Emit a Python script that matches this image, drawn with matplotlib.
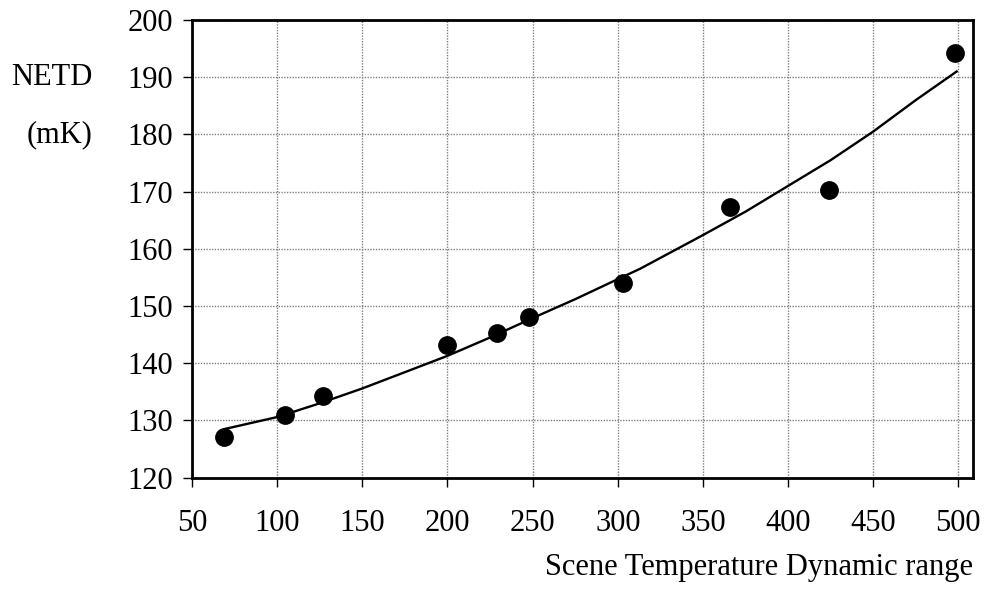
import numpy as np
import matplotlib
matplotlib.use("Agg")
import matplotlib.pyplot as plt

# measured points
range_pts = [69, 104.5, 126.8, 200, 229, 248, 303, 366, 424.3, 498.1]
netd_pts = [127.2, 131.0, 134.2, 143.2, 145.3, 148.1, 154.1, 167.3, 170.2, 194.3]

# fitted curve
range_fit = [69, 100, 125, 150, 172, 200, 225, 250, 275, 300, 313, 350, 375, 400, 425, 450, 475, 499]
netd_fit = [128.5, 130.6, 133.0, 135.6, 138.1, 141.3, 144.5, 147.9, 151.2, 154.7, 156.5, 162.4,
            166.5, 171.0, 175.5, 180.5, 186.0, 191.0]

xticks = [50, 100, 150, 200, 250, 300, 350, 400, 450, 500]
yticks = [120, 130, 140, 150, 160, 170, 180, 190, 200]

plt.rcParams['font.family'] = ['Liberation Serif', 'DejaVu Serif']
fs = 22

fig = plt.figure(figsize=(9.86, 5.94), dpi=100)
ax = fig.add_axes([192/986, 1 - 477.7/594, (973 - 192)/986, (477.7 - 20)/594])

ax.plot(range_fit, netd_fit, color='black', lw=1.7, zorder=3)
ax.plot(range_pts, netd_pts, 'o', color='black', ms=12.5, zorder=4)

ax.set_xlim(50, 508.6)
ax.set_ylim(120, 200)
ax.set_xticks(xticks)
ax.set_yticks(yticks)
ax.grid(True, color='#808080', ls=(0, (1, 1)), lw=1.0)
ax.set_axisbelow(True)

for s in ax.spines.values():
    s.set_linewidth(2)
ax.tick_params(axis='both', labelsize=fs, colors='black', width=1, length=6.5, direction='out')
ax.tick_params(axis='x', pad=16)
ax.tick_params(axis='y', pad=7)

fig.text(93/986, 1 - 77.5/594, 'NETD', ha='right', va='center', fontsize=fs)
fig.text(93/986, 1 - 135/594, '(mK)', ha='right', va='center', fontsize=fs)
fig.text(973/986, 1 - 568/594, 'Scene Temperature Dynamic range', ha='right', va='center', fontsize=fs)

fig.savefig('out.png', dpi=100)
